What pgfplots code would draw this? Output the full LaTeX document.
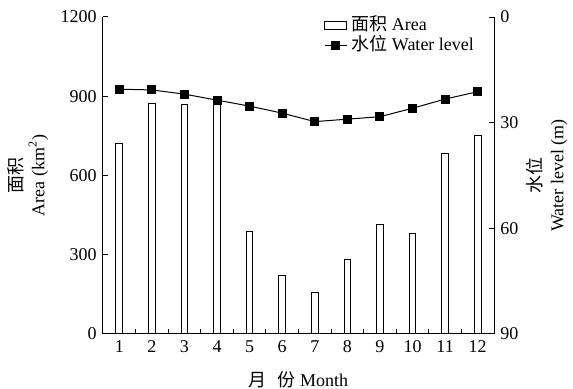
\documentclass[border=0pt]{standalone}
\usepackage{fontspec}
\setmainfont{Liberation Serif}
\newfontfamily\cjk{Noto Sans CJK SC}
\usepackage{pgfplots}
\pgfplotsset{compat=1.18}
\begin{document}
\fontsize{9}{10.8}\selectfont
\begin{tikzpicture}
\pgfplotsset{
  every axis/.append style={font=\fontsize{9}{10.8}\selectfont},
  common/.style={scale only axis, width=195.5pt, height=158.5pt,
    xmin=0.5, xmax=12.5, tick align=inside,
    major tick length=2.5pt, minor tick length=2.5pt,
    /pgf/number format/assume math mode=true,
    /pgf/number format/1000 sep={},
    tick style={black, line width=0.5pt},
    axis line style={line width=0.5pt}}
}
\begin{axis}[common,
  ymin=0, ymax=1200,
  axis x line*=bottom, axis y line*=left,
  xtick={1,...,12}, minor xtick={1.5,2.5,3.5,4.5,5.5,6.5,7.5,8.5,9.5,10.5,11.5},
  ytick={0,300,600,900,1200},
  ylabel={{\cjk 面积}\\Area (km\textsuperscript{2})},
  ylabel style={align=center, at={(axis description cs:-0.192,0.5)}, anchor=center},
  xlabel={{\cjk 月\hspace{0.6em}份} Month},
  xlabel style={at={(axis description cs:0.5,-0.145)}, anchor=center},
]
\addplot[ybar, bar width=3.3pt, fill=white, draw=black, line width=0.5pt] coordinates {
(1,720) (2,872) (3,867) (4,884) (5,388) (6,222) (7,156) (8,282) (9,415) (10,381) (11,684) (12,750)};
\end{axis}
\begin{axis}[common,
  ymin=0, ymax=90, y dir=reverse,
  axis x line=none, axis y line*=right,
  ytick={0,30,60,90},
  ylabel={{\cjk 水位}\\Water level (m)},
  ylabel style={align=center, rotate=0, at={(axis description cs:1.135,0.5)}, anchor=center},
  legend style={at={(0.55,1.02)}, anchor=north west, draw=none, fill=none,
    row sep=0pt, font=\fontsize{9}{10.8}\selectfont,
    nodes={text height=7pt, text depth=2pt, inner ysep=0.5pt}},
  legend cell align=left,
  legend image code/.code={\draw[#1] (0pt,0pt) -- (11pt,0pt); \draw[#1] plot coordinates {(5.5pt,0pt)};},
]
\addlegendimage{legend image code/.code={\draw[black, fill=white, line width=0.5pt] (0pt,-2pt) rectangle (11pt,2pt);}}
\addlegendentry{{\cjk 面积} Area}
\addplot[black, line width=0.5pt, mark=square*, mark size=2pt] coordinates {
(1,20.5) (2,20.7) (3,21.9) (4,23.6) (5,25.3) (6,27.3) (7,29.7) (8,29.0) (9,28.3) (10,25.9) (11,23.3) (12,21.2)};
\addlegendentry{{\cjk 水位} Water level}
\end{axis}
\pgfresetboundingbox
\useasboundingbox (-51.5pt,-27.5pt) rectangle (235pt,167pt);
\end{tikzpicture}
\end{document}
